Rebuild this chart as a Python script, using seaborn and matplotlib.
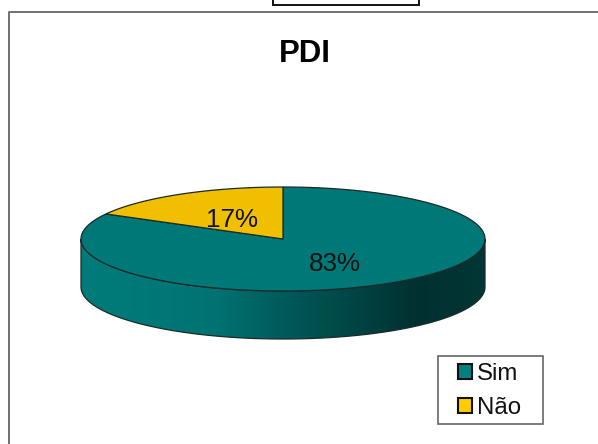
import numpy as np
import seaborn as sns
from matplotlib import pyplot as plt
from matplotlib.patches import Patch, Polygon, Rectangle

TITLE = "PDI"
CATEGORIES = ["Sim", "Não"]
VALUES = [83, 17]
COLORS = ["#007878", "#f0c000"]
LEGEND_COLORS = ["#008080", "#ffcc00"]

# shading of the pie wall, left to right
WALL_STOPS = ["#007c7a", "#007878", "#007272", "#005a5a", "#004646", "#023030", "#033636"]

CX, CY = 283, 239
RX, RY = 202, 52
DEPTH = 48
LINE = "#1c2a2a"


def rim(start, end, drop=0, n=200):
    """points on the pie rim, angles in degrees clockwise from 12 o'clock"""
    t = np.radians(np.linspace(start, end, n))
    return np.column_stack([CX + RX * np.sin(t), CY + drop - RY * np.cos(t)])


def draw_wall(ax):
    outline = np.vstack([rim(90, 270), rim(90, 270, DEPTH)[::-1]])
    wall_cmap = sns.blend_palette(WALL_STOPS, as_cmap=True)
    img = ax.imshow(
        np.linspace(0, 1, 256)[None, :],
        cmap=wall_cmap,
        extent=(CX - RX, CX + RX, CY + RY + DEPTH, CY - RY),
        aspect="auto",
        zorder=1,
    )
    clip = Polygon(outline, closed=True, transform=ax.transData)
    img.set_clip_path(clip)
    ax.add_patch(
        Polygon(outline, closed=True, fill=False, ec=LINE, lw=0.9, zorder=2)
    )


def draw_slices(ax):
    angle = 0
    for name, value, color in zip(CATEGORIES, VALUES, COLORS):
        sweep = 360 * value / sum(VALUES)
        pts = np.vstack([[CX, CY], rim(angle, angle + sweep)])
        ax.add_patch(Polygon(pts, closed=True, fc=color, ec=LINE, lw=0.9, zorder=3))

        mid = np.radians(angle + sweep / 2)
        ax.text(
            CX + 0.5 * RX * np.sin(mid),
            CY + 3 - 0.5 * RY * np.cos(mid),
            f"{value}%",
            ha="center",
            va="center",
            fontsize=18.7,
            color="#111111",
            zorder=4,
        )
        angle += sweep


def main():
    sns.set_theme(style="white")
    plt.rcParams["font.family"] = ["Liberation Sans", "DejaVu Sans"]

    fig = plt.figure(figsize=(5.98, 4.44), dpi=100)
    ax = fig.add_axes([0, 0, 1, 1])
    ax.set_axis_off()

    # chart frame runs off the right and bottom edge of the picture
    ax.plot([8.5, 8.5, 598], [444, 12.5, 12.5], color="#707070", lw=1.4, zorder=0)
    # bit of the box above the chart
    ax.add_patch(
        Rectangle((273, -10), 146, 15, fc="white", ec="#111111", lw=1.4, zorder=0)
    )

    ax.text(304.5, 53.5, TITLE, ha="center", va="center", fontsize=22.4, weight="bold", color="black")

    draw_wall(ax)
    draw_slices(ax)

    # keep the pixel grid: imshow resets the limits
    ax.set_xlim(0, 598)
    ax.set_ylim(444, 0)

    # legend box is wider than its entries, so the frame is drawn on its own
    ax.add_patch(Rectangle((437.5, 355.5), 105, 68, fc="white", ec="#666666", lw=1.2, zorder=5))
    handles = [
        Patch(fc=c, ec="#111111", lw=1.5, label=n) for n, c in zip(CATEGORIES, LEGEND_COLORS)
    ]
    legend = ax.legend(
        handles=handles,
        loc="lower left",
        bbox_to_anchor=(458, 419),
        bbox_transform=ax.transData,
        borderaxespad=0,
        fontsize=17.3,
        labelcolor="#111111",
        frameon=False,
        handlelength=0.58,
        handleheight=0.58,
        handletextpad=0.2,
        labelspacing=0.5,
        borderpad=0,
    )
    legend.set_zorder(6)
    fig.savefig("out.png", dpi=100)


if __name__ == "__main__":
    main()
